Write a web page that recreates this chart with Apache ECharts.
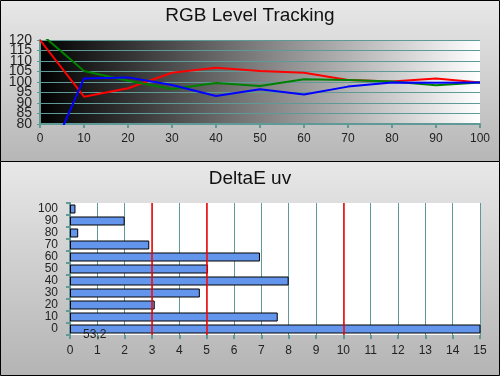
<!DOCTYPE html>
<html>
<head>
<meta charset="utf-8">
<script src="https://cdn.jsdelivr.net/npm/echarts@6/dist/echarts.min.js"></script>
<style>
  html, body { margin: 0; padding: 0; background: #fff; }
  #chart { width: 500px; height: 376px; }
</style>
</head>
<body>
<div id="chart"></div>
<script>
  // RGB level tracking (top)
  var levels = [0, 10, 20, 30, 40, 50, 60, 70, 80, 90, 100];
  var levelTicks = ['80', '85', '90', '95', '100', '105', '110', '115', '120'];
  var redLevel = [120, 93, 97, 104.4, 106.8, 105.2, 104.4, 101, 100.2, 101.7, 99.8];
  var greenLevel = [123.3, 105.2, 100.6, 96.7, 99.5, 98.1, 101.3, 101, 100.2, 98.4, 99.8];
  var blueLevel = [53.7, 101.7, 102.2, 98.6, 93.3, 96.5, 94, 97.8, 99.8, 99.7, 99.8];

  // DeltaE uv (bottom)
  var deltaCats = ['0', '10', '20', '30', '40', '50', '60', '70', '80', '90', '100'];
  var deltaVals = [53.2, 7.6, 3.1, 4.75, 8.0, 5.05, 6.95, 2.9, 0.3, 2.0, 0.2];
  var limitLines = [3, 5, 10];

  var teal = '#5f9a96';
  var txt = '#222';
  var font = 'Liberation Sans';

  function pairs(vals) {
    return vals.map(function(v, i) { return [levels[i], v]; });
  }

  var barData = deltaVals.map(function(v, i) {
    if (i == 0) {
      return {
        value: v,
        label: {
          show: true,
          position: 'insideLeft',
          offset: [8, 6],
          color: txt,
          fontFamily: font,
          fontSize: 12,
          formatter: function(p) { return String(p.value).replace('.', ','); }
        }
      };
    }
    return v;
  });

  var myChart = echarts.init(document.getElementById('chart'), null, {renderer: 'canvas'});
  var option = {
    animation: false,
    graphic: [
      {
        type: 'rect', z: -10, silent: true,
        shape: {x: 0.5, y: 0.5, width: 499, height: 161},
        style: {
          fill: new echarts.graphic.LinearGradient(0, 0, 0, 1, [
            {offset: 0, color: '#e8e8e8'}, {offset: 1, color: '#b6b6b6'}
          ]),
          stroke: '#000', lineWidth: 1
        }
      },
      {
        type: 'rect', z: -10, silent: true,
        shape: {x: 0.5, y: 161.5, width: 499, height: 214},
        style: {
          fill: new echarts.graphic.LinearGradient(0, 0, 0, 1, [
            {offset: 0, color: '#e8e8e8'}, {offset: 1, color: '#b4b4b4'}
          ]),
          stroke: '#000', lineWidth: 1
        }
      }
    ],
    title: [
      {
        text: 'RGB Level Tracking', left: 'center', top: 1,
        textStyle: {fontFamily: font, fontSize: 19, fontWeight: 'normal', color: '#111'}
      },
      {
        text: 'DeltaE uv', left: 'center', top: 164,
        textStyle: {fontFamily: font, fontSize: 19, fontWeight: 'normal', color: '#111'}
      }
    ],
    grid: [
      {
        left: 40, right: 20, top: 40, height: 84,
        show: true, borderWidth: 0,
        backgroundColor: new echarts.graphic.LinearGradient(0, 0, 1, 0, [
          {offset: 0, color: '#000'}, {offset: 1, color: '#fff'}
        ])
      },
      {
        left: 70, right: 20, top: 203, height: 132,
        show: true, borderWidth: 0, backgroundColor: '#fff'
      }
    ],
    xAxis: [
      {
        gridIndex: 0, type: 'value', min: 0, max: 100, interval: 10,
        axisLine: {lineStyle: {color: teal, width: 2}},
        axisTick: {show: true, length: 4, lineStyle: {color: teal, width: 2}},
        axisLabel: {color: txt, fontFamily: font, fontSize: 12, margin: 9},
        splitLine: {show: false}
      },
      {
        gridIndex: 1, type: 'value', min: 0, max: 15, interval: 1,
        axisLine: {lineStyle: {color: teal, width: 2}},
        axisTick: {show: true, length: 4, lineStyle: {color: teal, width: 2}},
        axisLabel: {color: txt, fontFamily: font, fontSize: 12, margin: 10},
        splitLine: {show: true, lineStyle: {color: teal, width: 1}}
      }
    ],
    yAxis: [
      {
        gridIndex: 0, type: 'value', min: 80, max: 120, interval: 5,
        axisLine: {show: true, lineStyle: {color: teal, width: 2}},
        axisTick: {show: true, length: 3, lineStyle: {color: teal}},
        axisLabel: {show: false},
        splitLine: {show: true, lineStyle: {color: teal, width: 1}}
      },
      {
        gridIndex: 1, type: 'category', data: deltaCats,
        axisLine: {show: true, lineStyle: {color: teal, width: 2}},
        axisTick: {show: true, length: 4, lineStyle: {color: teal, width: 2}},
        axisLabel: {color: txt, fontFamily: font, fontSize: 12, margin: 12, interval: 0},
        splitLine: {show: false}
      },
      {
        // label-only axis for the tightly packed level ticks
        gridIndex: 0, type: 'category', data: levelTicks, boundaryGap: false,
        position: 'left',
        axisLine: {show: false}, axisTick: {show: false},
        axisLabel: {color: txt, fontFamily: font, fontSize: 14, margin: 8, interval: 0},
        splitLine: {show: false}
      }
    ],
    series: [
      {
        name: 'R', type: 'line', xAxisIndex: 0, yAxisIndex: 0, data: pairs(redLevel),
        symbol: 'none', clip: true, lineStyle: {color: '#ff0000', width: 2}
      },
      {
        name: 'G', type: 'line', xAxisIndex: 0, yAxisIndex: 0, data: pairs(greenLevel),
        symbol: 'none', clip: true, lineStyle: {color: '#008000', width: 2}
      },
      {
        name: 'B', type: 'line', xAxisIndex: 0, yAxisIndex: 0, data: pairs(blueLevel),
        symbol: 'none', clip: true, lineStyle: {color: '#0000ff', width: 2}
      },
      {
        name: 'dE', type: 'bar', xAxisIndex: 1, yAxisIndex: 1, data: barData,
        barWidth: 9, clip: true,
        itemStyle: {color: '#6495ed', borderColor: '#000', borderWidth: 1},
        markLine: {
          silent: true, symbol: 'none', label: {show: false},
          lineStyle: {color: '#ff0000', width: 1.5, type: 'solid'},
          data: limitLines.map(function(v) { return {xAxis: v}; })
        }
      }
    ]
  };
  myChart.setOption(option);
</script>
</body>
</html>
